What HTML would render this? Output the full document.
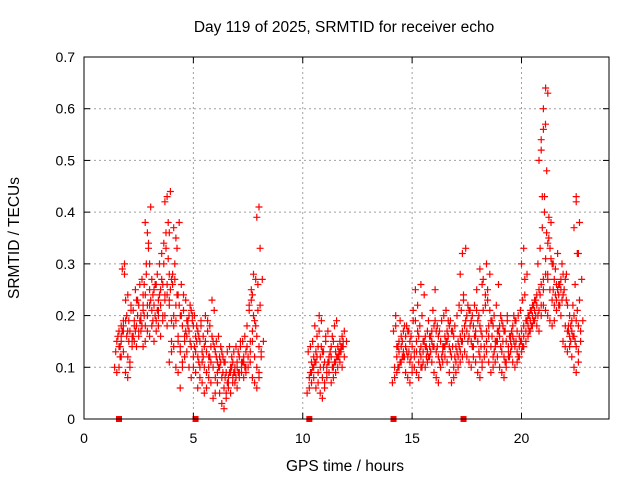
<!DOCTYPE html>
<html><head><meta charset="utf-8"><style>
html,body{margin:0;padding:0;background:#fff;}
svg{display:block;font-family:"Liberation Sans",sans-serif;}
</style></head><body>
<svg id="chart" width="640" height="480" viewBox="0 0 640 480" xmlns="http://www.w3.org/2000/svg">
<rect width="640" height="480" fill="#fff"/>
<g id="grid"></g>
<g id="marks"></g>
<g id="axes"></g>
<text x="344" y="32" font-size="15.5" text-anchor="middle">Day 119 of 2025, SRMTID for receiver echo</text>
<text x="345" y="471" font-size="15.5" text-anchor="middle">GPS time / hours</text>
<text x="19" y="238" font-size="15.5" text-anchor="middle" transform="rotate(-90 19 238)">SRMTID / TECUs</text>
</svg>
<script>
const xTicks=[0,5,10,15,20];
const yTicks=[0,0.1,0.2,0.3,0.4,0.5,0.6,0.7];
const yTickLabels=["0","0.1","0.2","0.3","0.4","0.5","0.6","0.7"];
const gapMarkers=[1.6,5.1,10.3,14.15,17.35];
const hours=[1.5,1.6,1.7,1.8,1.9,2.0,2.1,2.2,2.3,2.4,2.5,2.6,2.7,2.8,2.9,3.0,3.1,3.2,3.3,3.4,3.5,3.6,3.7,3.8,3.9,4.0,4.1,4.2,4.3,4.4,4.5,4.6,4.7,4.8,4.9,5.0,5.1,5.2,5.3,5.4,5.5,5.6,5.7,5.8,5.9,6.0,6.1,6.2,6.3,6.4,6.5,6.6,6.7,6.8,6.9,7.0,7.1,7.2,7.3,7.4,7.5,7.6,7.7,7.8,7.9,8.0,8.1,
10.3,10.4,10.5,10.6,10.7,10.8,10.9,11.0,11.1,11.2,11.3,11.4,11.5,11.6,11.7,11.8,11.9,
14.2,14.3,14.4,14.5,14.6,14.7,14.8,14.9,15.0,15.1,15.2,15.3,15.4,15.5,15.6,15.7,15.8,15.9,16.0,16.1,16.2,16.3,16.4,16.5,16.6,16.7,16.8,16.9,17.0,17.1,17.2,17.3,17.4,17.5,17.6,17.7,17.8,17.9,18.0,18.1,18.2,18.3,18.4,18.5,18.6,18.7,18.8,18.9,19.0,19.1,19.2,19.3,19.4,19.5,19.6,19.7,19.8,19.9,20.0,20.1,20.2,20.3,20.4,20.5,20.6,20.7,20.8,20.9,21.0,21.1,21.2,21.3,21.4,21.5,21.6,21.7,21.8,21.9,22.0,22.1,22.2,22.3,22.4,22.5,22.6,22.7];
const values=[
[.10,.15,.17,.13],[.09,.14,.18,.16,.12],[.10,.16,.19,.14,.17],[.12,.17,.23,.29,.30,.15],[.13,.19,.24,.28,.16,.18],
[.09,.12,.17,.20,.15],[.08,.11,.15,.19,.22,.17],[.10,.14,.18,.21,.16],[.16,.19,.23,.21,.17],[.15,.18,.22,.25,.20],
[.14,.17,.20,.23,.19],[.16,.19,.22,.26,.18],[.17,.21,.24,.27,.20],[.14,.18,.22,.26,.30,.24],[.15,.20,.25,.28,.34,.38],
[.17,.22,.27,.33,.41,.36,.30],[.16,.21,.25,.23,.19],[.18,.22,.26,.24,.20],[.15,.19,.23,.26,.21],[.17,.21,.25,.28,.24],
[.18,.22,.26,.30,.32,.20],[.16,.20,.24,.27,.34,.22],[.19,.23,.26,.30,.36],[.20,.24,.28,.33,.38,.42],[.18,.23,.27,.31,.44,.43,.36],
[.11,.15,.20,.25,.28,.22],[.13,.18,.22,.26,.30,.19],[.14,.19,.24,.27,.33,.37],[.10,.15,.20,.24,.38,.35],[.09,.13,.18,.22,.26,.16],
[.06,.11,.16,.20,.24,.14],[.10,.15,.19,.21,.17],[.12,.16,.20,.23,.18],[.13,.17,.21,.19,.15],[.10,.14,.18,.22,.20],
[.08,.12,.16,.19,.14],[.10,.13,.17,.20,.15],[.09,.12,.15,.18,.11],[.06,.10,.13,.16,.19],[.08,.11,.14,.18,.12],
[.07,.10,.13,.16,.20],[.05,.09,.12,.15,.19],[.06,.10,.14,.17,.12],[.08,.11,.15,.18,.23],[.07,.10,.13,.16,.21],
[.04,.08,.11,.14,.12],[.05,.09,.12,.15,.10],[.07,.10,.13,.16,.11],[.05,.08,.11,.14,.09],[.03,.06,.09,.12,.08],
[.02,.05,.08,.11,.07],[.04,.07,.10,.13,.09],[.06,.09,.11,.14,.10],[.05,.08,.10,.12,.09],[.07,.09,.11,.13,.08],
[.07,.10,.12,.14,.09],[.06,.09,.11,.13,.15],[.08,.10,.12,.14,.11],[.09,.11,.13,.15,.10],[.08,.10,.12,.16,.14],
[.09,.12,.15,.18,.22],[.10,.13,.17,.21,.25],[.11,.15,.19,.23,.28],[.08,.12,.16,.20,.27,.24],[.07,.10,.14,.18,.21],
[.06,.09,.13,.26,.33,.39,.41],[.08,.12,.15,.22,.27],
[.05,.08,.11,.13,.09],[.06,.09,.12,.14,.10],[.07,.10,.13,.15,.11],[.08,.11,.14,.18,.12],[.06,.09,.12,.16,.20],
[.07,.10,.13,.17,.19],[.05,.08,.11,.14,.10],[.04,.07,.10,.13,.16],[.06,.09,.12,.15,.11],[.08,.11,.14,.17,.13],
[.09,.12,.15,.13,.10],[.07,.10,.13,.16,.11],[.08,.11,.14,.18,.12],[.09,.12,.15,.19,.13],[.10,.13,.16,.12,.14],
[.11,.14,.17,.13,.15],[.10,.12,.15,.14],
[.07,.10,.14,.17,.20],[.08,.12,.15,.18,.10],[.09,.13,.16,.14,.11],[.10,.14,.17,.19,.12],[.11,.13,.16,.15,.12],
[.12,.14,.17,.18,.13],[.09,.12,.15,.18,.13],[.08,.11,.14,.17,.12],[.07,.10,.13,.16,.19],[.09,.12,.15,.21,.25],
[.10,.13,.16,.19,.22],[.09,.11,.14,.17,.13],[.08,.12,.15,.18,.10],[.10,.13,.16,.20,.24,.26],[.11,.14,.17,.15,.12],
[.10,.13,.16,.14,.12],[.11,.14,.17,.19,.13],[.12,.15,.18,.16,.14],[.11,.14,.17,.21,.25],[.09,.13,.16,.19,.14],
[.08,.12,.15,.18,.11],[.07,.10,.14,.17,.12],[.10,.13,.16,.19,.14],[.11,.14,.17,.20,.15],[.12,.15,.18,.21,.16],
[.11,.14,.17,.19,.13],[.09,.12,.16,.19,.14],[.07,.10,.14,.17,.12],[.08,.11,.15,.18,.13],[.09,.12,.16,.20,.14],
[.10,.13,.17,.22,.15],[.11,.15,.18,.21,.24,.28],[.12,.16,.20,.23,.33,.32],[.13,.17,.21,.19,.15],[.12,.16,.19,.22,.18],
[.11,.15,.18,.21,.14],[.10,.14,.17,.20,.16],[.12,.16,.19,.22,.25],[.11,.15,.18,.21,.13],[.09,.12,.16,.20,.14],
[.08,.11,.14,.17,.27,.29],[.10,.14,.17,.21,.24,.26],[.12,.15,.18,.22,.25],[.13,.16,.19,.23,.28,.30],[.11,.14,.18,.21,.16],
[.09,.12,.15,.19,.13],[.10,.14,.17,.20,.15],[.11,.15,.18,.22,.26],[.12,.16,.19,.17,.14],[.10,.13,.17,.20,.15],
[.09,.12,.15,.18,.11],[.08,.11,.14,.17,.20],[.10,.13,.16,.19,.12],[.12,.15,.18,.16,.14],[.13,.16,.19,.17,.15],
[.11,.14,.17,.20,.15],[.10,.13,.16,.19,.12],[.11,.14,.17,.20,.15],[.12,.15,.18,.21,.14],[.13,.16,.19,.23,.27,.30],
[.14,.17,.20,.24,.28,.33],[.15,.18,.21,.19,.17],[.16,.19,.22,.20,.18],[.17,.20,.23,.21,.19],[.18,.21,.24,.22,.20],
[.19,.22,.25,.23,.20],[.18,.21,.26,.30,.24],[.17,.22,.27,.33,.43,.50,.54],[.20,.25,.31,.37,.43,.52,.56],[.22,.28,.34,.40,.48,.60,.64],
[.21,.27,.33,.36,.39,.57,.63],[.20,.25,.30,.35,.38,.28],[.19,.23,.27,.31,.25],[.18,.22,.26,.30,.24],[.19,.23,.26,.29,.32],
[.21,.24,.27,.25,.22],[.22,.25,.28,.26,.23],[.20,.24,.27,.30,.25],[.15,.18,.22,.25,.28],[.14,.17,.20,.23,.18],
[.13,.16,.19,.17,.15],[.14,.17,.20,.18,.16],[.12,.16,.19,.22,.15],[.10,.14,.18,.26,.32,.37,.43],[.09,.13,.17,.21,.38,.42],
[.11,.15,.19,.23,.27,.32]];

const L=84,R=609,T=57,B=419,XMAX=24,YMAX=0.7;
const xs=h=>L+(h/XMAX)*(R-L);
const ys=v=>B-(v/YMAX)*(B-T);
const NS="http://www.w3.org/2000/svg";
function mk(tag,attrs,parent){const e=document.createElementNS(NS,tag);for(const k in attrs)e.setAttribute(k,attrs[k]);parent.appendChild(e);return e;}
const grid=document.getElementById('grid'),axes=document.getElementById('axes'),marks=document.getElementById('marks');

xTicks.forEach(t=>{
  const x=xs(t);
  if(t>0){const g=mk('line',{x1:x,x2:x,y1:T,y2:B,stroke:'#a0a0a0','stroke-dasharray':'2,3','stroke-width':1},grid);
  
  }
  const a=mk('line',{x1:x,x2:x,y1:B,y2:B-6,stroke:'#000'},axes);
  
  
  const a2=mk('line',{x1:x,x2:x,y1:T,y2:T+6,stroke:'#000'},axes);
  
  
  const tx=mk('text',{x:x,y:443,'font-size':14,'text-anchor':'middle'},axes);
  tx.textContent=String(t);
  
  
});
yTicks.forEach((t,i)=>{
  const y=ys(t);
  if(t>0&&t<YMAX){const g=mk('line',{x1:L,x2:R,y1:y,y2:y,stroke:'#a0a0a0','stroke-dasharray':'2,3','stroke-width':1},grid);
  
  }
  const a=mk('line',{x1:L,x2:L+6,y1:y,y2:y,stroke:'#000'},axes);
  
  
  const a2=mk('line',{x1:R,x2:R-6,y1:y,y2:y,stroke:'#000'},axes);
  
  
  const tx=mk('text',{x:75,y:y+5,'font-size':14,'text-anchor':'end'},axes);
  tx.textContent=yTickLabels[i];
  
  
});
const frame=mk('rect',{x:L,y:T,width:R-L,height:B-T,fill:'none',stroke:'#000','stroke-width':1},axes);



let d='';
hours.forEach((h,i)=>{
  const x=xs(h);
  (values[i]||[]).forEach((v,j)=>{
    const xx=x+((j*7)%5-2)*1.1, y=ys(v);
    d+=`M${(xx-3.5).toFixed(1)} ${y.toFixed(1)}h7M${xx.toFixed(1)} ${(y-3.5).toFixed(1)}v7`;
  });
});
const p=mk('path',{d:d,stroke:'#ff0000','stroke-width':1.2,fill:'none'},marks);



gapMarkers.forEach(h=>{
  const r=mk('rect',{x:xs(h)-3,y:B-3,width:6,height:6,fill:'#ff0000'},marks);
  
  
});
</script>
</body></html>
